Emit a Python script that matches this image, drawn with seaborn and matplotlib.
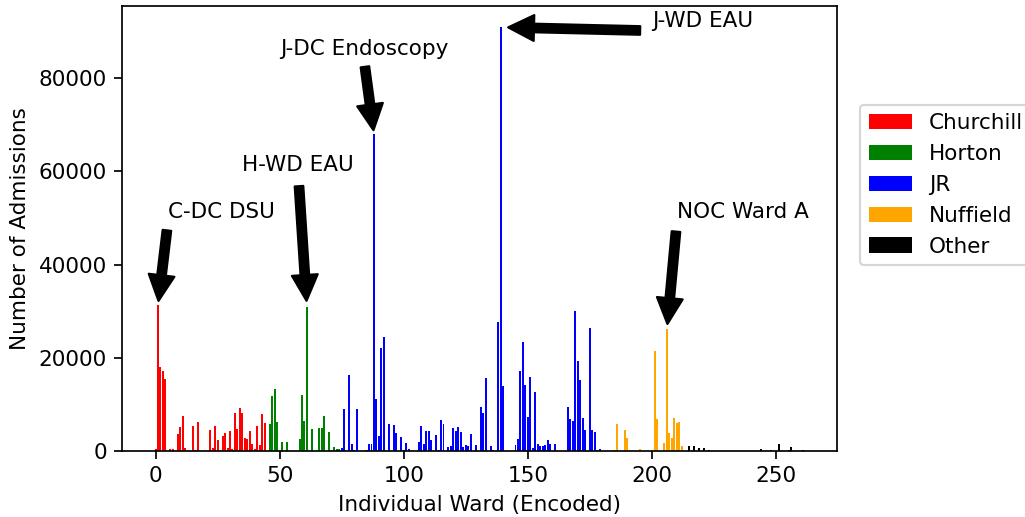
import numpy as np
import pandas as pd
import matplotlib
matplotlib.use("Agg")
import matplotlib.pyplot as plt
import seaborn as sns

# Admissions per encoded ward, grouped by hospital site
churchill_wards = [0, 1, 2, 3, 4, 6, 7, 9, 10, 11, 12, 15, 16, 17, 22, 23, 24, 25, 27, 28,
                   29, 30, 31, 32, 33, 34, 35, 36, 37, 38, 39, 40, 41, 42, 43, 44]
churchill_counts = [500, 31300, 17950, 17100, 15400, 400, 400, 3600, 5150, 7450, 600, 5300,
                    200, 6150, 4450, 600, 5300, 2300, 3150, 3800, 600, 4250, 400, 8100,
                    4650, 9150, 8100, 2700, 2500, 4250, 1450, 400, 5300, 1200, 7850, 5950]

horton_wards = [46, 47, 48, 49, 51, 53, 58, 59, 60, 61, 63, 66, 67, 68, 70, 72, 73, 74]
horton_counts = [5750, 11750, 13250, 6150, 1850, 1850, 2500, 11950, 6350, 30800, 4650,
                 4850, 4850, 7450, 4000, 800, 400, 400]

jr_wards = [75, 76, 78, 79, 80, 81, 85, 86, 87, 88, 89, 90, 91, 92, 94, 96, 97, 99, 100,
            101, 102, 106, 107, 108, 109, 110, 111, 113, 114, 115, 116, 118, 119, 120,
            121, 122, 123, 124, 125, 126, 127, 129, 131, 132, 133, 135, 136, 138, 139,
            140, 145, 146, 147, 148, 149, 150, 151, 152, 153, 154, 155, 156, 157, 158,
            159, 161, 166, 167, 168, 169, 170, 171, 172, 173, 175, 176, 177, 178, 179]
jr_counts = [600, 8950, 16250, 1450, 200, 8950, 200, 1450, 1450, 68000, 11100, 3150, 22000,
             24400, 5750, 5500, 3800, 2950, 300, 1650, 400, 1850, 5300, 1450, 4250, 4250,
             2300, 3350, 200, 6600, 5750, 800, 1000, 4850, 4250, 5100, 4000, 800, 1200,
             1000, 3600, 1200, 9350, 8100, 15600, 1000, 200, 27600, 90900, 13900, 1200,
             2500, 17100, 23300, 14100, 7250, 15800, 600, 12600, 1450, 1000, 1000, 1200,
             2300, 1450, 1450, 9350, 6800, 6350, 30000, 19250, 15150, 7000, 4450, 26300,
             4450, 4000, 200, 400]

nuffield_wards = [185, 186, 189, 190, 195, 201, 202, 205, 206, 207, 208, 209, 210, 211, 212]
nuffield_counts = [200, 5750, 4450, 2700, 400, 21400, 6800, 1650, 26100, 3800, 2700, 7000,
                   5950, 6150, 1000]

other_wards = [215, 217, 219, 221, 223, 244, 248, 251, 255, 256, 261]
other_counts = [1000, 1000, 600, 600, 200, 400, 200, 1450, 200, 800, 200]

hospitals = ["Churchill", "Horton", "JR", "Nuffield", "Other"]
colors = ["red", "green", "blue", "orange", "black"]

# Labelled wards: (label, ward, text x, text y)
callouts = [
    ("C-DC DSU", 1, 5, 50000),
    ("H-WD EAU", 61, 35, 60000),
    ("J-DC Endoscopy", 88, 50, 85000),
    ("J-WD EAU", 139, 200, 91000),
    ("NOC Ward A", 206, 210, 50000),
]

groups = [
    (churchill_wards, churchill_counts),
    (horton_wards, horton_counts),
    (jr_wards, jr_counts),
    (nuffield_wards, nuffield_counts),
    (other_wards, other_counts),
]
df = pd.concat(
    [pd.DataFrame({"ward": w, "admissions": c, "hospital": h})
     for (w, c), h in zip(groups, hospitals)],
    ignore_index=True,
)

DPI = 155
fig = plt.figure(figsize=(1025 / DPI, 517 / DPI), dpi=DPI)
ax = fig.add_axes([122 / 1025, 1 - 451 / 517, (837 - 122) / 1025, (451 - 6) / 517])

sns.barplot(
    data=df, x="ward", y="admissions", hue="hospital", hue_order=hospitals,
    palette=dict(zip(hospitals, colors)), native_scale=True, dodge=False,
    errorbar=None, saturation=1, width=0.8, linewidth=0, ax=ax,
)

lookup = dict(zip(df["ward"], df["admissions"]))
for label, ward, tx, ty in callouts:
    ax.annotate(label, xy=(ward, lookup[ward]), xytext=(tx, ty),
                arrowprops=dict(facecolor="black", shrink=0.05))

ax.set_xlabel("Individual Ward (Encoded)")
ax.set_ylabel("Number of Admissions")
ax.set_xticks([0, 50, 100, 150, 200, 250])
ax.set_xlim(-13.5, 274.5)
ax.set_ylim(0, 95450)

sns.move_legend(ax, "upper left", bbox_to_anchor=(1.017, 0.802), title=None, frameon=True)

fig.savefig("out.png", dpi=DPI)
